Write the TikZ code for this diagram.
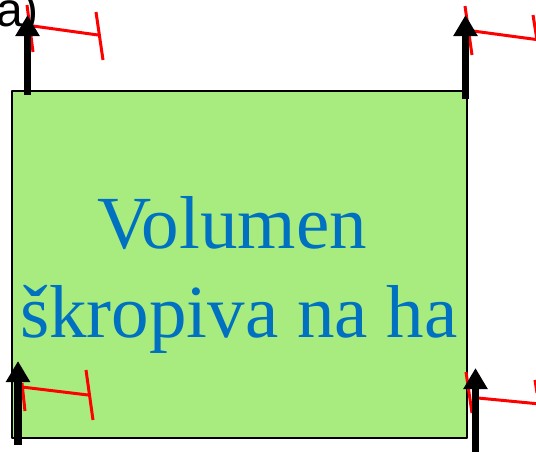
\documentclass[tikz,border=0pt]{standalone}
\usepackage{fontspec}
\setmainfont{Liberation Serif}
\newfontfamily\labelfont{Liberation Sans}
\usetikzlibrary{arrows.meta, positioning, calc}
\definecolor{boxgreen}{RGB}{168,236,128}
\definecolor{textblue}{RGB}{0,112,192}

\begin{document}
\begin{tikzpicture}[x=1pt, y=-1pt, line join=round]
    \useasboundingbox (0,0) rectangle (536,451);
    \tikzset{
      upvec/.style={line width=7.5pt, -{Triangle[length=21pt, width=23pt]}},
      redmark/.style={red, line width=3pt}
    }
    \node[draw, line width=2pt, fill=boxgreen, inner sep=0pt, anchor=north west,
          minimum width=455pt, minimum height=347pt] (box) at (11,90) {};
    \node[textblue, anchor=base, font=\fontsize{75}{90}\selectfont, inner sep=0pt] (vol) at (232,248) {Volumen};
    \node[textblue, anchor=base, font=\fontsize{75}{90}\selectfont, inner sep=0pt] (ha) at (239,337) {škropiva na ha};
    \node[anchor=base west, font=\labelfont\fontsize{48}{50}\selectfont, inner sep=0pt] (lbl) at (-4,26) {a)};
    % red marks
    \draw[redmark] (27,5) -- (33,52) (33,26) -- (98,35) (96,12) -- (103,60);
    \draw[redmark] (465,6) -- (472,55) (473,31) -- (540,40) (533,15) -- (537,40);
    \draw[redmark] (22,383) -- (25,411) (22,387) -- (88,395) (86,370) -- (93,420);
    \draw[redmark] (466,372) -- (472,413) (478,398) -- (540,404) (535,380) -- (537,393);
    % arrows
    \foreach \x/\ya/\yb in {27.5/95/15, 465.5/99/15, 18/445/361, 475.5/455/368} {
      \draw[upvec] (\x,\ya) -- (\x,\yb);
    }
\end{tikzpicture}
\end{document}
